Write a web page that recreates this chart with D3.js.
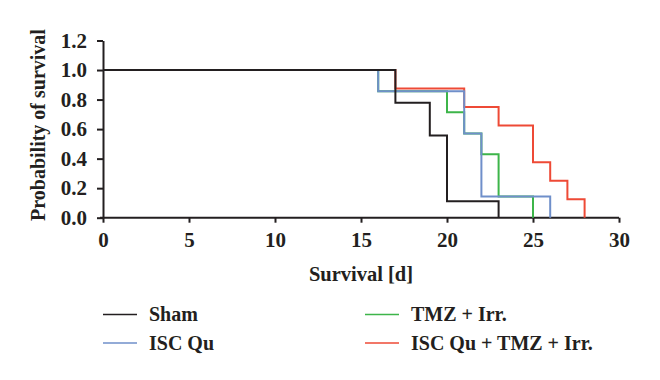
<!DOCTYPE html>
<html>
<head>
<meta charset="utf-8">
<script src="https://cdn.jsdelivr.net/npm/d3@7"></script>
<style>
  body { margin: 0; background: #fff; }
  text { font-family: "Liberation Serif", "DejaVu Serif", serif; font-weight: bold; fill: #231f20; }
</style>
</head>
<body>
<div id="chart"></div>
<script>
// Kaplan-Meier steps: [day, survival after that day]
const sham = [[0, 1], [17, 0.778], [19, 0.556], [20, 0.111], [23, 0]];
const iscQu = [[0, 1], [16, 0.857], [21, 0.571], [22, 0.143], [26, 0]];
const tmzIrr = [[0, 1], [16, 0.857], [20, 0.714], [21, 0.571], [22, 0.429], [23, 0.143], [25, 0]];
const iscTmzIrr = [[0, 1], [17, 0.875], [21, 0.75], [23, 0.625], [25, 0.375], [26, 0.25], [27, 0.125], [28, 0]];

const seriesNames = ["Sham", "ISC Qu", "TMZ + Irr.", "ISC Qu + TMZ + Irr."];
const xTicks = [0, 5, 10, 15, 20, 25, 30];
const yTicks = [0, 0.2, 0.4, 0.6, 0.8, 1.0, 1.2];

const width = 660, height = 380;
const margin = { left: 103, right: 41, top: 40.5, bottom: 162.3 };

const colors = {
  "Sham": "#231f20",
  "ISC Qu": "#6f8fca",
  "TMZ + Irr.": "#3db54a",
  "ISC Qu + TMZ + Irr.": "#ee4a36"
};
const dataByName = {
  "Sham": sham,
  "ISC Qu": iscQu,
  "TMZ + Irr.": tmzIrr,
  "ISC Qu + TMZ + Irr.": iscTmzIrr
};

const svg = d3.select("#chart").append("svg")
  .attr("width", width)
  .attr("height", height);

const x = d3.scaleLinear().domain([0, 30]).range([margin.left, width - margin.right]);
const y = d3.scaleLinear().domain([0, 1.2]).range([height - margin.bottom, margin.top]);

// axes
const xAxis = svg.append("g")
  .attr("transform", `translate(0,${y(0)})`)
  .call(d3.axisBottom(x).tickValues(xTicks).tickFormat(d3.format("d")).tickSize(5).tickSizeOuter(0).tickPadding(9));
const yAxis = svg.append("g")
  .attr("transform", `translate(${x(0)},0)`)
  .call(d3.axisLeft(y).tickValues(yTicks).tickFormat(d3.format(".1f")).tickSize(6).tickSizeOuter(0).tickPadding(10));

[xAxis, yAxis].forEach(g => {
  g.select(".domain").attr("stroke", "#231f20").attr("stroke-width", 2);
  g.selectAll(".tick line").attr("stroke", "#231f20").attr("stroke-width", 2);
  g.selectAll(".tick text")
    .attr("fill", "#231f20")
    .style("font-size", "21px")
    .style("font-family", "Liberation Serif, serif")
    .style("font-weight", "bold");
});
// extend x-axis a bit to the left like the original
xAxis.select(".domain").attr("d", `M${x(0) - 3},0H${x(30)}`);

// survival step lines (red, green, blue, black on top)
const line = d3.line()
  .x(d => x(d[0]))
  .y(d => y(d[1]))
  .curve(d3.curveStepAfter);

const drawOrder = ["ISC Qu + TMZ + Irr.", "TMZ + Irr.", "ISC Qu", "Sham"];
svg.append("g")
  .selectAll("path")
  .data(drawOrder)
  .join("path")
  .attr("fill", "none")
  .attr("stroke", d => colors[d])
  .attr("stroke-width", 2)
  .attr("d", d => line(dataByName[d]));

// axis titles
svg.append("text")
  .attr("x", (x(0) + x(30)) / 2)
  .attr("y", 281)
  .attr("text-anchor", "middle")
  .style("font-size", "20.5px")
  .text("Survival [d]");

svg.append("text")
  .attr("transform", `translate(45,125) rotate(-90)`)
  .attr("text-anchor", "middle")
  .style("font-size", "20px")
  .text("Probability of survival");

// legend
const legendPos = [
  { name: "Sham", lx: 103, ly: 314.5 },
  { name: "ISC Qu", lx: 103, ly: 343 },
  { name: "TMZ + Irr.", lx: 365, ly: 314.5 },
  { name: "ISC Qu + TMZ + Irr.", lx: 365, ly: 343 }
];
const legend = svg.append("g")
  .selectAll("g")
  .data(legendPos)
  .join("g")
  .attr("transform", d => `translate(${d.lx},${d.ly})`);
legend.append("line")
  .attr("x2", 34)
  .attr("stroke", d => colors[d.name])
  .attr("stroke-width", 1.5);
legend.append("text")
  .attr("x", 46)
  .attr("y", 6.5)
  .style("font-size", "20px")
  .text(d => d.name);
</script>
</body>
</html>
